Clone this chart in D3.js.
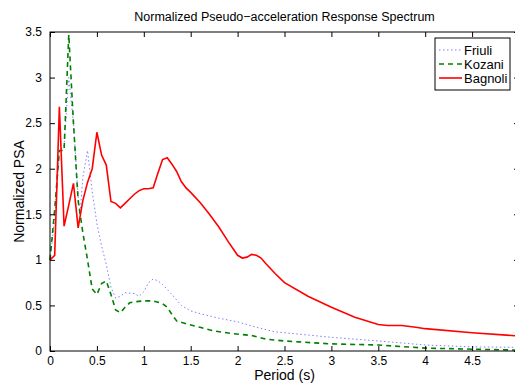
<!DOCTYPE html>
<html>
<head>
<meta charset="utf-8">
<script src="https://cdn.jsdelivr.net/npm/d3@7"></script>
<style>
  body { margin: 0; background: #fff; }
  text { font-family: "Liberation Sans", Arial, sans-serif; }
</style>
</head>
<body>
<svg id="vis" width="515" height="383"></svg>
<script>
// periods (s) and normalized PSA
let friuli_t = [0, 0.05, 0.1, 0.15, 0.2, 0.25, 0.3, 0.32, 0.35, 0.4, 0.45, 0.5, 0.55, 0.6, 0.65, 0.7, 0.75, 0.8, 0.9, 0.95, 1.0, 1.05, 1.1, 1.15, 1.2, 1.3, 1.4, 1.5, 1.6, 1.8, 2.0, 2.2, 2.4, 2.6, 3.0, 3.5, 4.0, 4.5, 5.0];
let friuli_v = [1.0, 1.45, 2.2, 2.25, 3.0, 2.5, 1.7, 1.5, 1.9, 2.2, 1.75, 1.4, 1.15, 0.95, 0.7, 0.58, 0.6, 0.64, 0.63, 0.6, 0.65, 0.75, 0.79, 0.77, 0.73, 0.62, 0.5, 0.44, 0.41, 0.36, 0.32, 0.26, 0.21, 0.19, 0.15, 0.11, 0.066, 0.045, 0.04];

let kozani_t = [0, 0.05, 0.1, 0.15, 0.2, 0.25, 0.3, 0.35, 0.4, 0.45, 0.5, 0.55, 0.6, 0.65, 0.7, 0.75, 0.8, 0.85, 0.9, 1.0, 1.1, 1.2, 1.25, 1.3, 1.35, 1.45, 1.6, 1.75, 1.95, 2.15, 2.3, 2.5, 2.65, 3.0, 3.5, 4.0, 4.5, 5.0];
let kozani_v = [1.0, 1.55, 2.2, 2.2, 3.47, 2.5, 1.65, 1.3, 1.0, 0.68, 0.62, 0.74, 0.77, 0.62, 0.45, 0.42, 0.48, 0.53, 0.54, 0.55, 0.55, 0.52, 0.48, 0.4, 0.33, 0.3, 0.26, 0.22, 0.19, 0.17, 0.13, 0.11, 0.1, 0.078, 0.066, 0.032, 0.02, 0.01];

let bagnoli_t = [0, 0.05, 0.1, 0.15, 0.2, 0.25, 0.3, 0.35, 0.4, 0.45, 0.5, 0.55, 0.6, 0.65, 0.7, 0.75, 0.8, 0.85, 0.9, 0.95, 1.0, 1.05, 1.1, 1.15, 1.2, 1.25, 1.3, 1.35, 1.4, 1.45, 1.5, 1.6, 1.7, 1.8, 1.9, 2.0, 2.05, 2.1, 2.15, 2.2, 2.25, 2.3, 2.4, 2.5, 2.75, 3.0, 3.25, 3.5, 3.6, 3.75, 3.9, 4.0, 4.5, 5.0];
let bagnoli_v = [1.0, 1.05, 2.68, 1.37, 1.6, 1.84, 1.35, 1.65, 1.85, 2.0, 2.4, 2.15, 2.04, 1.64, 1.62, 1.57, 1.62, 1.67, 1.72, 1.76, 1.78, 1.78, 1.79, 1.95, 2.1, 2.12, 2.05, 1.97, 1.86, 1.79, 1.74, 1.63, 1.5, 1.36, 1.2, 1.05, 1.02, 1.03, 1.06, 1.05, 1.02, 0.96, 0.85, 0.75, 0.6, 0.48, 0.37, 0.29, 0.28, 0.28, 0.26, 0.245, 0.2, 0.165];

let x_ticks = [0, 0.5, 1, 1.5, 2, 2.5, 3, 3.5, 4, 4.5];
let y_ticks = [0, 0.5, 1, 1.5, 2, 2.5, 3, 3.5];

let series = [
    {name: "Friuli", t: friuli_t, v: friuli_v, color: "#7f7fff", dash: "1.5,2.5", width: 1},
    {name: "Kozani", t: kozani_t, v: kozani_v, color: "#008000", dash: "5,4", width: 1.6},
    {name: "Bagnoli", t: bagnoli_t, v: bagnoli_v, color: "#ff0000", dash: null, width: 1.6}
];

let margin = {top: 32, right: -4, bottom: 32, left: 50};
let svg = d3.select("#vis");
let width = +svg.attr("width") - margin.left - margin.right;
let height = +svg.attr("height") - margin.top - margin.bottom;

let x = d3.scaleLinear().domain([0, 5]).range([0, width]);
let y = d3.scaleLinear().domain([0, 3.5]).range([height, 0]);

let g = svg.append("g").attr("transform", `translate(${margin.left}, ${margin.top})`);

let line = d3.line()
    .x(d => x(d[0]))
    .y(d => y(d[1]));

series.forEach(s => {
    let pts = s.t.map((t, i) => [t, s.v[i]]);
    g.append("path")
        .datum(pts)
        .attr("fill", "none")
        .attr("stroke", s.color)
        .attr("stroke-width", s.width)
        .attr("stroke-dasharray", s.dash)
        .attr("d", line);
});

// box with inward ticks, matlab style
g.append("rect")
    .attr("width", width).attr("height", height)
    .attr("fill", "none").attr("stroke", "#000").attr("stroke-width", 1);

let xb = g.append("g").attr("transform", `translate(0, ${height})`)
    .call(d3.axisBottom(x).tickValues(x_ticks).tickSizeInner(-5).tickSizeOuter(0).tickPadding(8).tickFormat(d3.format("")));
let xt = g.append("g")
    .call(d3.axisTop(x).tickValues(x_ticks).tickSizeInner(-5).tickSizeOuter(0).tickFormat(""));
let yl = g.append("g")
    .call(d3.axisLeft(y).tickValues(y_ticks).tickSizeInner(-5).tickSizeOuter(0).tickPadding(8).tickFormat(d3.format("")));
let yr = g.append("g").attr("transform", `translate(${width}, 0)`)
    .call(d3.axisRight(y).tickValues(y_ticks).tickSizeInner(-5).tickSizeOuter(0).tickFormat(""));

[xb, xt, yl, yr].forEach(a => {
    a.select(".domain").remove();
    a.selectAll("line").attr("stroke", "#000");
    a.selectAll("text").attr("font-size", 12).attr("fill", "#000")
        .style("font-family", '"Liberation Sans", Arial, sans-serif');
});
xb.selectAll("text").attr("dy", "0.71em").attr("y", 5);

svg.append("text")
    .attr("x", margin.left + width / 2).attr("y", 21)
    .attr("text-anchor", "middle").attr("font-size", 12.5)
    .text("Normalized Pseudo\u2212acceleration Response Spectrum");

svg.append("text")
    .attr("x", margin.left + width / 2).attr("y", 380)
    .attr("text-anchor", "middle").attr("font-size", 14)
    .text("Period (s)");

svg.append("text")
    .attr("transform", `translate(24, ${margin.top + height / 2}) rotate(-90)`)
    .attr("text-anchor", "middle").attr("font-size", 14)
    .text("Normalized PSA");

// legend
let lg = svg.append("g").attr("transform", "translate(435, 38)");
lg.append("rect").attr("width", 75).attr("height", 52)
    .attr("fill", "#fff").attr("stroke", "#000").attr("stroke-width", 1);
series.forEach((s, i) => {
    let yy = 12 + i * 14;
    lg.append("line")
        .attr("x1", 4).attr("x2", 27).attr("y1", yy).attr("y2", yy)
        .attr("stroke", s.color).attr("stroke-width", s.width)
        .attr("stroke-dasharray", s.dash);
    lg.append("text")
        .attr("x", 29).attr("y", yy).attr("dy", "0.35em")
        .attr("font-size", 13)
        .text(s.name);
});
</script>
</body>
</html>
